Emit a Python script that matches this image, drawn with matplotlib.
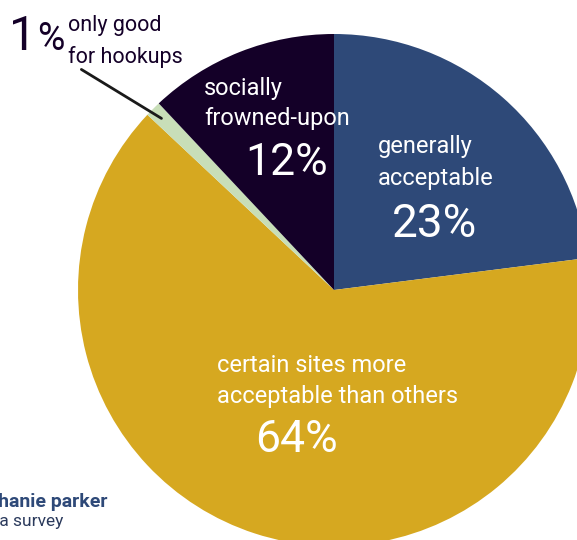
import numpy as np
import matplotlib.pyplot as plt

# survey shares, clockwise from 12 o'clock
labels = ["generally acceptable", "certain sites more acceptable than others",
          "only good for hookups", "socially frowned-upon"]
shares = [23, 64, 1, 12]
colors = ["#2e4978", "#d6a820", "#c8deb8", "#140028"]

W, H = 577, 540
FONT = ["Roboto", "DejaVu Sans"]


def main():
    fig = plt.figure(figsize=(W / 100, H / 100), dpi=100)
    ax = fig.add_axes([0, 0, 1, 1])

    cx, cy, r = 334, H - 290, 256
    wedges, _ = ax.pie(shares, colors=colors, startangle=90, counterclock=False,
                       center=(cx, cy), radius=r, frame=True,
                       wedgeprops=dict(linewidth=0))
    ax.set_xlim(0, W)
    ax.set_ylim(0, H)
    ax.set_aspect("equal")
    ax.axis("off")

    def txt(x, y, s, size, color="white", weight="normal", ha="left"):
        ax.text(x, H - y, s, fontsize=size, color=color, fontweight=weight,
                ha=ha, va="baseline", family=FONT)

    # 1% callout with leader line into the thin slice
    txt(9, 50, "1", 35, color="#140028")
    txt(37, 50, "%", 27, color="#140028")
    txt(68, 31, "only good", 15.5, color="#140028")
    txt(68, 63, "for hookups", 15.5, color="#140028")
    w = wedges[2]
    mid = np.deg2rad((w.theta1 + w.theta2) / 2)
    tip = (cx + 0.94 * r * np.cos(mid), cy + 0.94 * r * np.sin(mid))
    ax.annotate("", xy=tip, xytext=(79, H - 68),
                arrowprops=dict(arrowstyle="-", color="#1a1a1a", lw=2))

    txt(204, 95, "socially", 17)
    txt(204, 125, "frowned-upon", 17)
    txt(245, 175, "12%", 32)

    txt(378, 153, "generally", 17)
    txt(378, 185, "acceptable", 17)
    txt(392, 237, "23%", 33)

    txt(217, 372, "certain sites more", 17)
    txt(217, 403, "acceptable than others", 17)
    txt(255, 452, "64%", 32)

    txt(107, 507, "Stephanie parker", 14, color="#2e4978", weight="bold", ha="right")
    txt(63, 526, "from a survey", 12.5, color="#2b3a5c", ha="right")

    fig.savefig("out.png", dpi=100)


if __name__ == "__main__":
    main()
